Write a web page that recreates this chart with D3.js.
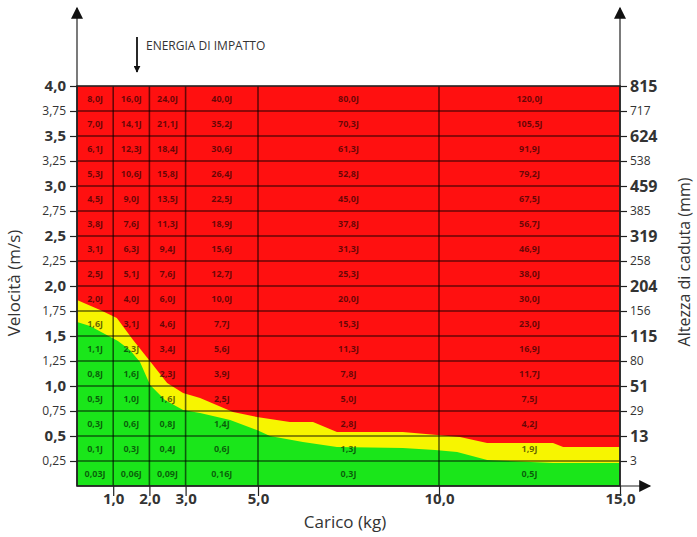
<!DOCTYPE html>
<html>
<head>
<meta charset="utf-8">
<script src="https://cdn.jsdelivr.net/npm/d3@7"></script>
<style>
  body { margin: 0; background: #fff; }
  text { font-family: "Open Sans", "DejaVu Sans", sans-serif; }
</style>
</head>
<body>
<div id="chart"></div>
<script>
// carichi (kg) = colonne, velocità (m/s) = righe
var masses = [1, 2, 3, 5, 10, 15];
var speeds = [4.0, 3.75, 3.5, 3.25, 3.0, 2.75, 2.5, 2.25, 2.0, 1.75, 1.5, 1.25, 1.0, 0.75, 0.5, 0.25];
var speedLabels = ["4,0", "3,75", "3,5", "3,25", "3,0", "2,75", "2,5", "2,25", "2,0", "1,75", "1,5", "1,25", "1,0", "0,75", "0,5", "0,25"];
var heightLabels = ["815", "717", "624", "538", "459", "385", "319", "258", "204", "156", "115", "80", "51", "29", "13", "3"];
var massLabels = ["1,0", "2,0", "3,0", "5,0", "10,0", "15,0"];

// energia di impatto, una riga per velocità
var energy = [
    ["8,0J", "16,0J", "24,0J", "40,0J", "80,0J", "120,0J"],
    ["7,0J", "14,1J", "21,1J", "35,2J", "70,3J", "105,5J"],
    ["6,1J", "12,3J", "18,4J", "30,6J", "61,3J", "91,9J"],
    ["5,3J", "10,6J", "15,8J", "26,4J", "52,8J", "79,2J"],
    ["4,5J", "9,0J", "13,5J", "22,5J", "45,0J", "67,5J"],
    ["3,8J", "7,6J", "11,3J", "18,9J", "37,8J", "56,7J"],
    ["3,1J", "6,3J", "9,4J", "15,6J", "31,3J", "46,9J"],
    ["2,5J", "5,1J", "7,6J", "12,7J", "25,3J", "38,0J"],
    ["2,0J", "4,0J", "6,0J", "10,0J", "20,0J", "30,0J"],
    ["1,6J", "3,1J", "4,6J", "7,7J", "15,3J", "23,0J"],
    ["1,1J", "2,3J", "3,4J", "5,6J", "11,3J", "16,9J"],
    ["0,8J", "1,6J", "2,3J", "3,9J", "7,8J", "11,7J"],
    ["0,5J", "1,0J", "1,6J", "2,5J", "5,0J", "7,5J"],
    ["0,3J", "0,6J", "0,8J", "1,4J", "2,8J", "4,2J"],
    ["0,1J", "0,3J", "0,4J", "0,6J", "1,3J", "1,9J"],
    ["0,03J", "0,06J", "0,09J", "0,16J", "0,3J", "0,5J"]
];

// confine zona verde / gialla  [kg, m/s]
var greenEdge = [[0, 1.64], [0.36, 1.6], [0.77, 1.52], [1.13, 1.45], [1.46, 1.36], [1.74, 1.24],
    [2.02, 1.01], [2.43, 0.86], [2.93, 0.76], [3.4, 0.73], [4.23, 0.66], [4.97, 0.56], [5.33, 0.5],
    [6.24, 0.44], [7.18, 0.39], [9.0, 0.38], [9.89, 0.36], [10.5, 0.34], [11.33, 0.26], [13.15, 0.23], [15, 0.23]];
// confine zona gialla / rossa
var yellowEdge = [[0, 1.86], [0.64, 1.76], [1.1, 1.68], [1.55, 1.46], [2.1, 1.21], [2.49, 1.03],
    [2.93, 0.93], [3.4, 0.88], [4.31, 0.74], [4.97, 0.69], [5.88, 0.64], [6.52, 0.64], [7.18, 0.54],
    [9.0, 0.54], [10.58, 0.49], [11.33, 0.43], [13.15, 0.43], [13.43, 0.39], [15, 0.39]];

function chart() {
    var width = 697, height = 537;
    var mLeft = 77, mRight = 620, mTop = 86, mBottom = 486;

    var svg = d3.select("#chart").append("svg")
        .attr("width", width)
        .attr("height", height);

    var x = d3.scaleLinear().domain([0, 15]).range([mLeft, mRight]);
    var y = d3.scaleLinear().domain([0, 4]).range([mBottom, mTop]);

    // zone colorate
    svg.append("rect")
        .attr("x", x(0)).attr("y", y(4))
        .attr("width", x(15) - x(0)).attr("height", y(0) - y(4))
        .attr("fill", "#ff1010");

    var area = d3.area()
        .x(d => x(d[0]))
        .y0(y(0))
        .y1(d => y(d[1]));

    svg.append("path").datum(yellowEdge).attr("d", area).attr("fill", "#f7f500");
    svg.append("path").datum(greenEdge).attr("d", area).attr("fill", "#1ae61a");

    // griglia
    var grid = svg.append("g").attr("stroke", "#000").attr("stroke-opacity", 0.6).attr("stroke-width", 1.6);
    grid.selectAll(".h").data(speeds.slice(1)).enter().append("line")
        .attr("x1", x(0)).attr("x2", x(15))
        .attr("y1", d => y(d)).attr("y2", d => y(d));
    grid.selectAll(".v").data(masses.slice(0, -1)).enter().append("line")
        .attr("x1", d => x(d)).attr("x2", d => x(d))
        .attr("y1", y(4)).attr("y2", y(0));
    svg.append("rect")
        .attr("x", x(0)).attr("y", y(4))
        .attr("width", x(15) - x(0)).attr("height", y(0) - y(4))
        .attr("fill", "none").attr("stroke", "#222").attr("stroke-width", 1.6);

    // etichette energia
    var cells = [];
    energy.forEach((row, i) => {
        row.forEach((lab, j) => {
            cells.push({ lab: lab, x0: j === 0 ? 0 : masses[j - 1], x1: masses[j], v: speeds[i] });
        });
    });
    svg.append("g").selectAll("text").data(cells).enter().append("text")
        .attr("x", d => (x(d.x0) + x(d.x1)) / 2)
        .attr("y", d => y(d.v - 0.125))
        .attr("dy", "0.35em")
        .attr("text-anchor", "middle")
        .attr("font-family", "'Liberation Sans', Arial, sans-serif")
        .attr("font-size", 9)
        .attr("font-weight", "bold")
        .attr("fill", "#000")
        .attr("fill-opacity", 0.6)
        .text(d => d.lab);

    // assi con frecce
    var defs = svg.append("defs");
    defs.append("marker").attr("id", "arrow")
        .attr("viewBox", "0 0 10 10").attr("refX", 9).attr("refY", 5)
        .attr("markerWidth", 7).attr("markerHeight", 7)
        .attr("markerUnits", "userSpaceOnUse")
        .attr("orient", "auto")
        .append("path").attr("d", "M0,0 L10,5 L0,10 Z").attr("fill", "#111");
    defs.append("marker").attr("id", "arrowBig")
        .attr("viewBox", "0 0 10 10").attr("refX", 9).attr("refY", 5)
        .attr("markerWidth", 14).attr("markerHeight", 12)
        .attr("markerUnits", "userSpaceOnUse")
        .attr("orient", "auto")
        .append("path").attr("d", "M0,0 L10,5 L0,10 Z").attr("fill", "#111");

    svg.append("line").attr("x1", x(0)).attr("x2", x(0)).attr("y1", y(0)).attr("y2", 8)
        .attr("stroke", "#222").attr("stroke-width", 1.2).attr("marker-end", "url(#arrowBig)");
    svg.append("line").attr("x1", x(15)).attr("x2", x(15)).attr("y1", y(0)).attr("y2", 8)
        .attr("stroke", "#222").attr("stroke-width", 1.2).attr("marker-end", "url(#arrowBig)");
    svg.append("line").attr("x1", x(0)).attr("x2", 650).attr("y1", y(0)).attr("y2", y(0))
        .attr("stroke", "#222").attr("stroke-width", 1.2).attr("marker-end", "url(#arrowBig)");

    // asse sinistro: velocità
    var yLeft = svg.append("g").attr("transform", `translate(${x(0)},0)`)
        .call(d3.axisLeft(y).tickValues(speeds).tickSize(7).tickFormat((d, i) => speedLabels[i]));
    yLeft.select(".domain").remove();
    yLeft.selectAll("line").attr("stroke", "#222").attr("stroke-width", 1.2);
    yLeft.selectAll("text")
        .attr("fill", "#333")
        .attr("font-size", (d, i) => i % 2 === 0 ? 15 : 12)
        .attr("font-weight", (d, i) => i % 2 === 0 ? "bold" : "normal")
        .attr("dx", "-1");

    // asse destro: altezza di caduta
    var yRight = svg.append("g").attr("transform", `translate(${x(15)},0)`)
        .call(d3.axisRight(y).tickValues(speeds).tickSize(7).tickFormat((d, i) => heightLabels[i]));
    yRight.select(".domain").remove();
    yRight.selectAll("line").attr("stroke", "#222").attr("stroke-width", 1.2);
    yRight.selectAll("text")
        .attr("fill", "#333")
        .attr("font-size", (d, i) => i % 2 === 0 ? 16 : 12)
        .attr("font-weight", (d, i) => i % 2 === 0 ? "bold" : "normal");

    // asse x: carico
    var xAxis = svg.append("g").attr("transform", `translate(0,${y(0)})`)
        .call(d3.axisBottom(x).tickValues(masses).tickSize(10).tickFormat((d, i) => massLabels[i]));
    xAxis.select(".domain").remove();
    xAxis.selectAll("line").attr("stroke", "#222").attr("stroke-width", 1.2);
    xAxis.selectAll("text")
        .attr("fill", "#333")
        .attr("font-size", 15)
        .attr("font-weight", "bold")
        .attr("dy", "0.3em");

    // titoli
    svg.append("text")
        .attr("transform", "translate(20,283) rotate(-90)")
        .attr("text-anchor", "middle")
        .attr("font-size", 17)
        .attr("fill", "#333")
        .text("Velocità (m/s)");
    svg.append("text")
        .attr("transform", "translate(684,262) rotate(-90)")
        .attr("text-anchor", "middle")
        .attr("dy", "0.35em")
        .attr("font-size", 16)
        .attr("fill", "#333")
        .text("Altezza di caduta (mm)");
    svg.append("text")
        .attr("x", 345).attr("y", 528)
        .attr("text-anchor", "middle")
        .attr("font-size", 17)
        .attr("fill", "#333")
        .text("Carico (kg)");

    // energia di impatto
    svg.append("line").attr("x1", 137).attr("x2", 137).attr("y1", 37).attr("y2", 72)
        .attr("stroke", "#111").attr("stroke-width", 1.8).attr("marker-end", "url(#arrow)");
    svg.append("text")
        .attr("x", 146).attr("y", 50)
        .attr("font-size", 12)
        .attr("fill", "#333")
        .text("ENERGIA DI IMPATTO");
}

chart();
</script>
</body>
</html>
